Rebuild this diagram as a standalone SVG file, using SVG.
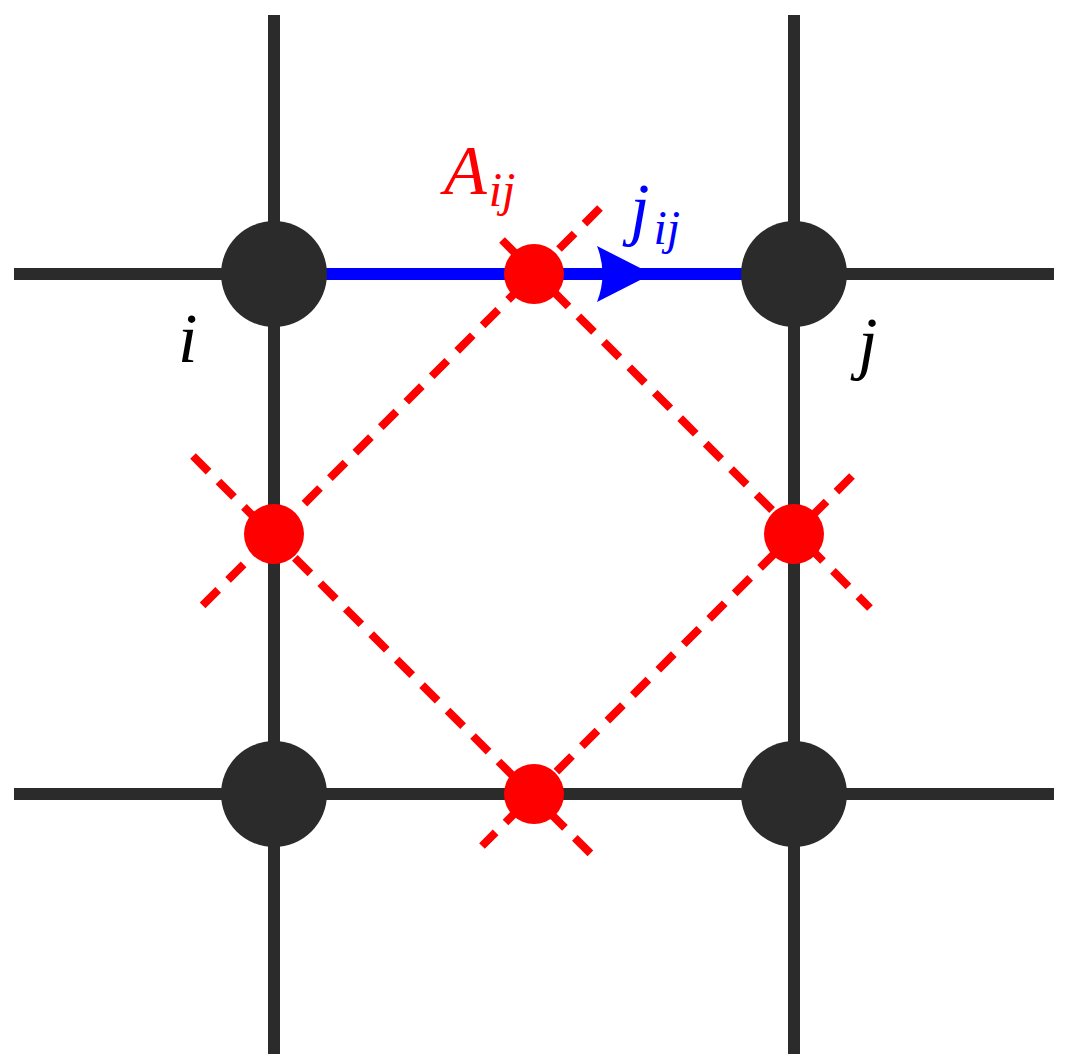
<svg xmlns="http://www.w3.org/2000/svg" width="1068" height="1064" viewBox="0 0 1068 1064">
<style>
.g{stroke:#2b2b2b;stroke-width:12;fill:none}
.d{stroke:#ff0000;stroke-width:8;stroke-dasharray:22 14;fill:none}
.n{fill:#2b2b2b}
.r{fill:#ff0000}
.t{font-family:"Liberation Serif",serif;font-style:italic;font-size:70px}
.s{font-family:"Liberation Serif",serif;font-style:italic;font-size:48px}
</style>
<rect width="1068" height="1064" fill="#fff"/>
<g id="connectors">
<line class="g" x1="274" y1="15" x2="274" y2="1054"/>
<line class="g" x1="794" y1="15" x2="794" y2="1054"/>
<line class="g" x1="14" y1="274" x2="1054" y2="274"/>
<line class="g" x1="14" y1="794" x2="1054" y2="794"/>
<line x1="274" y1="274" x2="794" y2="274" stroke="#0000ff" stroke-width="12"/>
<path d="M597,246 L652,274 L597,302 Q608,274 597,246Z" fill="#0000ff"/>
<line class="d" x1="600" y1="208" x2="198" y2="610"/>
<line class="d" x1="502" y1="240" x2="870" y2="608"/>
<line class="d" x1="193" y1="456" x2="598" y2="861"/>
<line class="d" x1="852" y1="476" x2="482" y2="846"/>
</g>
<g id="n1"><circle class="n" cx="274" cy="274" r="53"/></g>
<g id="n2"><circle class="n" cx="794" cy="274" r="53"/></g>
<g id="n3"><circle class="n" cx="274" cy="794" r="53"/></g>
<g id="n4"><circle class="n" cx="794" cy="794" r="53"/></g>
<g id="r1"><circle class="r" cx="534" cy="274" r="30"/></g>
<g id="r2"><circle class="r" cx="274" cy="534" r="30"/></g>
<g id="r3"><circle class="r" cx="794" cy="534" r="30"/></g>
<g id="r4"><circle class="r" cx="534" cy="794" r="30"/></g>
<g id="labels">
<text class="t" x="444" y="194" fill="#ff0000">A<tspan class="s" dy="12" dx="2">ij</tspan></text>
<text class="t" x="630" y="232" fill="#0000ff">j<tspan class="s" dy="12" dx="4">ij</tspan></text>
<text class="t" x="178" y="362" fill="#000">i</text>
<text class="t" x="858" y="366" fill="#000">j</text>
</g>
</svg>
